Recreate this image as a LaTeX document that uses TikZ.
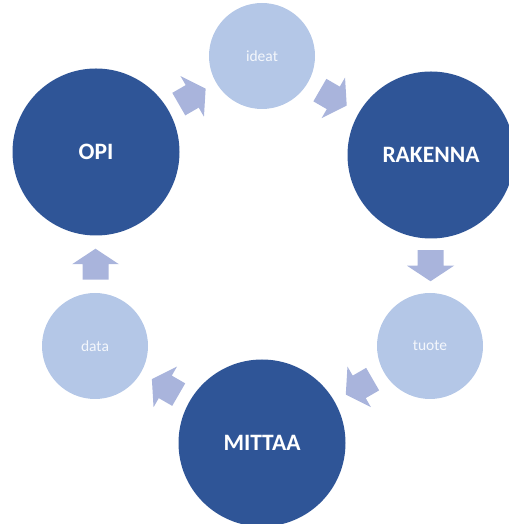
\documentclass[tikz,border=0pt]{standalone}
\usepackage{fontspec}
\setmainfont{Carlito}
\usetikzlibrary{calc}
\definecolor{darkblue}{RGB}{47,85,151}
\definecolor{lightblue}{RGB}{180,199,231}
\definecolor{arrowblue}{RGB}{169,180,220}
\definecolor{lighttext}{RGB}{244,247,252}
\tikzset{
  bigcircle/.style={circle, fill=darkblue, minimum size=167pt, inner sep=0pt,
    text=white, font=\fontsize{23.5}{28}\selectfont\bfseries},
  smallcircle/.style={circle, fill=lightblue, minimum size=106pt, inner sep=0pt,
    text=lighttext, font=\fontsize{15.5}{18}\selectfont},
  blockarrow/.style={fill=arrowblue, draw=none}
}
\newcommand{\blockarr}[2]{%
  \path[blockarrow, shift={(#1)}, rotate=#2]
    (-15.5pt,-13pt) -- (0pt,-13pt) -- (0pt,-23.5pt) -- (15.5pt,0pt)
    -- (0pt,23.5pt) -- (0pt,13pt) -- (-15.5pt,13pt) -- cycle;}
\begin{document}
\begin{tikzpicture}[x=1pt,y=1pt]
\useasboundingbox (0,0) rectangle (508,524);
\node[smallcircle] (ideat) at (262,468) {ideat};
\node[bigcircle] (rakenna) at (431,369) {RAKENNA};
\node[smallcircle] (tuote) at (430,178) {tuote};
\node[bigcircle] (mittaa) at (262,81) {MITTAA};
\node[smallcircle] (data) at (95,178) {data};
\node[bigcircle] (opi) at (96,372) {OPI};
\coordinate (a1) at ($(opi.30)!0.5!(ideat.210)$);
\coordinate (a2) at ($(ideat.-30)!0.5!(rakenna.150)$);
\coordinate (a3) at ($(rakenna.-90)!0.5!(tuote.90)$);
\coordinate (a4) at ($(tuote.210)!0.5!(mittaa.30)$);
\coordinate (a5) at ($(mittaa.150)!0.5!(data.-30)$);
\coordinate (a6) at ($(data.90)!0.5!(opi.-90)$);
\blockarr{a1}{30}
\blockarr{a2}{-30}
\blockarr{a3}{-90}
\blockarr{a4}{210}
\blockarr{a5}{150}
\blockarr{a6}{90}
\end{tikzpicture}
\end{document}
